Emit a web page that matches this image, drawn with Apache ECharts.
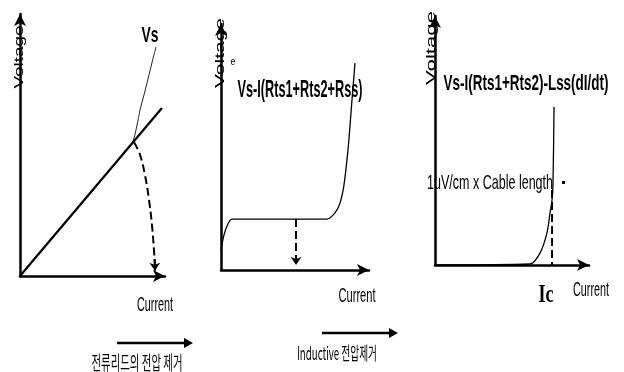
<!DOCTYPE html>
<html>
<head>
<meta charset="utf-8">
<script src="https://cdn.jsdelivr.net/npm/echarts@6/dist/echarts.min.js"></script>
<style>
  html, body { margin: 0; padding: 0; background: #fff; }
  #chart { width: 624px; height: 372px; }
</style>
</head>
<body>
<div id="chart"></div>
<script>
// Panel 1: source voltage Vs and its resistive (linear) part
const vsCurve = [[0, 0], [27.6, 17.9], [55.2, 35.9], [72.4, 47.3], [77.9, 51.5], [80.7, 57.6],
  [82.8, 63.4], [85.5, 69.1], [87.6, 73.7], [90.3, 79.8], [92.4, 84.4], [93.8, 87.4]];
const ohmicLine = [[0, 0], [97.9, 64.1]];
const removalArc = [[78.6, 51.1], [82.8, 46.2], [86.2, 38.5], [89, 29], [91, 19.5], [92.4, 9.9], [93.0, 4.5]];
const removalTip = [[92.9, 6.5], [93.1, 2.0]];

// Panel 2: voltage after subtracting the lead resistances
const leadCorrected = [[0, 8.1], [2, 14.2], [4.7, 18.7], [7.4, 20.7], [71.6, 20.7], [77, 23.2],
  [80.4, 27.2], [83.1, 34.6], [85.8, 48.8], [87.2, 58.9], [88.5, 69.1], [89.9, 79.3], [90.5, 84.1]];
const plateauDrop = [[50.7, 20.7], [50.7, 2.0]];

// Panel 3: voltage after subtracting the inductive term as well
const inductiveCorrected = [[0, 0], [61.7, 0.4], [68.2, 4.8], [72.7, 12.9], [74.7, 20.9],
  [76, 26.1], [76.6, 32.1], [77.3, 63.5]];
const criticalMarker = [[76, 30.1], [76, 0]];

const axisNames = { voltage: 'Voltage', current: 'Current' };
const panelTitles = ['Vs', 'Vs-I(Rts1+Rts2+Rss)', 'Vs-I(Rts1+Rts2)-Lss(dI/dt)'];
const criterionLabel = '1uV/cm x Cable length';
const criticalLabel = 'Ic';
const stepLabels = ['전류리드의 전압 제거', 'Inductive 전압제거'];

const chart = echarts.init(document.getElementById('chart'), null, { renderer: 'canvas' });

const grids = [
  { left: 20, top: 14, width: 145, height: 262 },
  { left: 221, top: 24, width: 148, height: 246 },
  { left: 435, top: 16, width: 154, height: 249 }
];

const axisLine = {
  show: true,
  onZero: false,
  symbol: ['none', 'arrow'],
  symbolSize: [9, 12],
  lineStyle: { color: '#000', width: 2.5 }
};
function makeAxis(i) {
  return {
    gridIndex: i, type: 'value', min: 0, max: 100,
    axisLine: axisLine, axisTick: { show: false }, axisLabel: { show: false },
    splitLine: { show: false }
  };
}

function curve(i, data, width, dashed, smooth, color) {
  return {
    type: 'line', xAxisIndex: i, yAxisIndex: i, data: data,
    showSymbol: false, symbol: 'none', smooth: smooth, silent: true,
    lineStyle: { color: color || '#000', width: width, type: dashed ? 'dashed' : 'solid' },
    z: 3
  };
}
function arrowSeg(i, coords, dashed) {
  return {
    type: 'lines', coordinateSystem: 'cartesian2d', xAxisIndex: i, yAxisIndex: i,
    data: [{ coords: coords }], symbol: ['none', 'arrow'], symbolSize: 8, silent: true,
    lineStyle: { color: '#000', width: 2, opacity: 1, type: dashed ? 'dashed' : 'solid' },
    z: 4
  };
}

// Measure text so it can be squeezed along its baseline into the drawn length;
// "thick" narrows the glyphs across the baseline (used for the rotated axis names).
const measureCtx = document.createElement('canvas').getContext('2d');
function label(text, cx, cy, size, width, opt) {
  opt = opt || {};
  const family = opt.family || "'Liberation Sans', Arial, sans-serif";
  const weight = opt.weight || 'normal';
  const font = weight + ' ' + size + 'px ' + family;
  measureCtx.font = font;
  const w = measureCtx.measureText(text).width;
  return {
    type: 'text', x: cx, y: cy, rotation: opt.rotation || 0,
    scaleX: width / w, scaleY: opt.thick || 1, silent: true, z: 10,
    style: { text: text, font: font, fill: '#000', align: 'center', verticalAlign: 'middle' }
  };
}
function arrow(x1, x2, y) {
  return [
    { type: 'line', shape: { x1: x1, y1: y, x2: x2 - 6, y2: y }, style: { stroke: '#000', lineWidth: 2.5 }, silent: true },
    { type: 'polygon', shape: { points: [[x2 - 9, y - 5], [x2, y], [x2 - 9, y + 5]] }, style: { fill: '#000' }, silent: true }
  ];
}

const hangul = "'Noto Sans CJK KR', sans-serif";
const graphics = [
  label(axisNames.voltage, 19, 57, 18, 63, { rotation: Math.PI / 2, thick: 0.72 }),
  label(axisNames.voltage, 220, 53, 18, 70, { rotation: Math.PI / 2, thick: 0.72 }),
  label(axisNames.voltage, 431, 48, 18, 74, { rotation: Math.PI / 2, thick: 0.72 }),
  label(axisNames.current, 155, 305, 21, 36),
  label(axisNames.current, 357, 296, 21, 37),
  label(axisNames.current, 591, 290, 21, 36),
  label(panelTitles[0], 150, 36, 22, 17, { weight: 'bold' }),
  label('e', 233, 62, 11, 5),
  label(panelTitles[1], 300, 91, 23, 125, { weight: 'bold' }),
  label(panelTitles[2], 526, 84, 22, 165, { weight: 'bold' }),
  label(criterionLabel, 490, 183, 21, 126),
  { type: 'rect', shape: { x: 562, y: 181, width: 3, height: 3 }, style: { fill: '#000' }, silent: true },
  label(criticalLabel, 546, 295, 26, 15, { weight: 'bold', family: "'Liberation Serif', serif" }),
  label(stepLabels[0], 137, 363, 19, 91, { family: hangul }),
  label(stepLabels[1], 337, 353, 18, 80, { family: hangul })
].concat(arrow(117, 193, 343), arrow(322, 398, 333));

chart.setOption({
  backgroundColor: '#fff',
  animation: false,
  grid: grids,
  xAxis: [makeAxis(0), makeAxis(1), makeAxis(2)],
  yAxis: [makeAxis(0), makeAxis(1), makeAxis(2)],
  series: [
    curve(0, vsCurve, 1, false, 0.3, '#222'),
    curve(0, ohmicLine, 2.2, false, false),
    curve(0, removalArc, 2, true, 0.4),
    arrowSeg(0, removalTip, false),
    curve(1, leadCorrected, 1.3, false, 0.3),
    arrowSeg(1, plateauDrop, true),
    curve(2, inductiveCorrected, 1.3, false, 0.3),
    curve(2, criticalMarker, 2, true, false)
  ],
  graphic: graphics
});
</script>
</body>
</html>
